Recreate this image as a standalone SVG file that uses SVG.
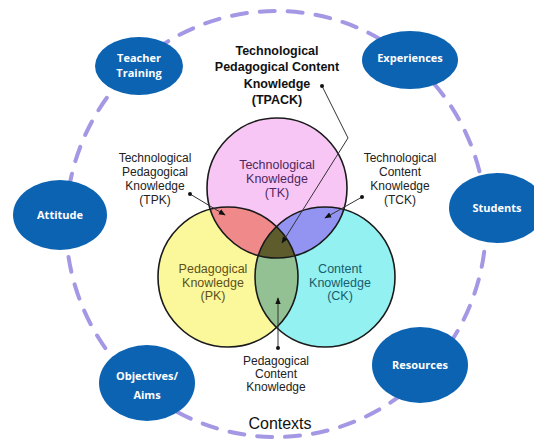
<svg xmlns="http://www.w3.org/2000/svg" width="534" height="439" viewBox="0 0 534 439">
<defs>
<style>
.node{fill:#0c63b2;}
.nt{font-family:"Open Sans","Liberation Sans",sans-serif;font-weight:bold;font-size:11px;fill:#ffffff;text-anchor:middle;}
.lbl{font-family:"Liberation Sans",Arial,sans-serif;font-size:12px;fill:#222222;text-anchor:middle;}
.ttl{font-family:"Liberation Sans",Arial,sans-serif;font-size:12.5px;font-weight:bold;fill:#111111;text-anchor:middle;}
.ring{fill:none;stroke:#1a1a1a;stroke-width:1.6;}
.ptr{fill:none;stroke:#333333;stroke-width:1;}
.dot{fill:#111111;}
</style>
<marker id="ah" viewBox="0 0 10 10" refX="9" refY="5" markerWidth="7" markerHeight="7" orient="auto">
<path d="M0,1 L10,5 L0,9 z" fill="#111111"/>
</marker>
<clipPath id="cTK"><circle cx="277" cy="188" r="70"/></clipPath>
<clipPath id="cPK"><circle cx="228" cy="277" r="70"/></clipPath>
<clipPath id="cCK"><circle cx="325" cy="277" r="70"/></clipPath>
</defs>
<rect width="534" height="439" fill="#ffffff"/>
<ellipse id="context-ring" cx="276" cy="224" rx="210" ry="213" fill="none" stroke="#a497e4" stroke-width="4" stroke-linecap="round" stroke-dasharray="15 13"/>

<g id="venn">
<circle cx="277" cy="188" r="70" fill="#f8c6f4"/>
<circle cx="228" cy="277" r="70" fill="#fbf89c"/>
<circle cx="325" cy="277" r="70" fill="#93f1f1"/>
<g clip-path="url(#cTK)"><circle cx="228" cy="277" r="70" fill="#f08a8a"/><circle cx="325" cy="277" r="70" fill="#9393f2"/></g>
<g clip-path="url(#cPK)"><circle cx="325" cy="277" r="70" fill="#93c193"/></g>
<g clip-path="url(#cPK)"><g clip-path="url(#cCK)"><circle cx="277" cy="188" r="70" fill="#5e5b2c"/></g></g>
<circle class="ring" cx="277" cy="188" r="70"/>
<circle class="ring" cx="228" cy="277" r="70"/>
<circle class="ring" cx="325" cy="277" r="70"/>
</g>

<g id="tk-label" font-family="Liberation Sans, Arial, sans-serif" font-size="12.5" fill="#4e2760" text-anchor="middle">
<text x="277" y="169">Technological</text>
<text x="277" y="183">Knowledge</text>
<text x="277" y="197">(TK)</text>
</g>
<g id="pk-label" font-family="Liberation Sans, Arial, sans-serif" font-size="12.5" fill="#5e5018" text-anchor="middle">
<text x="213" y="273">Pedagogical</text>
<text x="213" y="287">Knowledge</text>
<text x="213" y="300">(PK)</text>
</g>
<g id="ck-label" font-family="Liberation Sans, Arial, sans-serif" font-size="12.5" fill="#175e6e" text-anchor="middle">
<text x="340" y="273">Content</text>
<text x="340" y="287">Knowledge</text>
<text x="340" y="300">(CK)</text>
</g>

<g id="tpack-title">
<text class="ttl" x="277" y="55">Technological</text>
<text class="ttl" x="277" y="71">Pedagogical Content</text>
<text class="ttl" x="277" y="88">Knowledge</text>
<text class="ttl" x="277" y="104">(TPACK)</text>
</g>
<g id="tpk-label">
<text class="lbl" x="155" y="162">Technological</text>
<text class="lbl" x="155" y="176">Pedagogical</text>
<text class="lbl" x="155" y="190">Knowledge</text>
<text class="lbl" x="155" y="204">(TPK)</text>
</g>
<g id="tck-label">
<text class="lbl" x="400" y="162">Technological</text>
<text class="lbl" x="400" y="176">Content</text>
<text class="lbl" x="400" y="190">Knowledge</text>
<text class="lbl" x="400" y="204">(TCK)</text>
</g>
<g id="pck-label">
<text class="lbl" x="276" y="365">Pedagogical</text>
<text class="lbl" x="276" y="378">Content</text>
<text class="lbl" x="276" y="391">Knowledge</text>
</g>

<g id="connectors">
<polyline class="ptr" points="322,86 348,138 282,243" marker-end="url(#ah)"/>
<circle class="dot" cx="322" cy="86" r="2"/>
<line class="ptr" x1="190" y1="194" x2="225" y2="215" marker-end="url(#ah)"/>
<circle class="dot" cx="190" cy="194" r="2"/>
<line class="ptr" x1="362" y1="197" x2="325" y2="218" marker-end="url(#ah)"/>
<circle class="dot" cx="362" cy="197" r="2"/>
<line class="ptr" x1="278" y1="348" x2="278" y2="298" marker-end="url(#ah)"/>
<circle class="dot" cx="278" cy="348" r="2"/>
</g>

<g id="teacher-training"><ellipse class="node" cx="139" cy="66" rx="44" ry="29"/><text class="nt" x="139" y="62">Teacher</text><text class="nt" x="139" y="77">Training</text></g>
<g id="experiences"><ellipse class="node" cx="410" cy="60" rx="48" ry="29"/><text class="nt" x="410" y="62">Experiences</text></g>
<g id="attitude"><ellipse class="node" cx="60" cy="215" rx="47" ry="35"/><text class="nt" x="60" y="219">Attitude</text></g>
<g id="students"><ellipse class="node" cx="497" cy="208" rx="48" ry="35"/><text class="nt" x="497" y="212">Students</text></g>
<g id="objectives-aims"><ellipse class="node" cx="147" cy="383" rx="48" ry="38"/><text class="nt" x="147" y="380">Objectives/</text><text class="nt" x="147" y="399">Aims</text></g>
<g id="resources"><ellipse class="node" cx="420" cy="365" rx="48" ry="38"/><text class="nt" x="420" y="369">Resources</text></g>

<text id="contexts" x="280" y="429" font-family="Liberation Sans, Arial, sans-serif" font-size="16" fill="#111111" text-anchor="middle">Contexts</text>
</svg>
